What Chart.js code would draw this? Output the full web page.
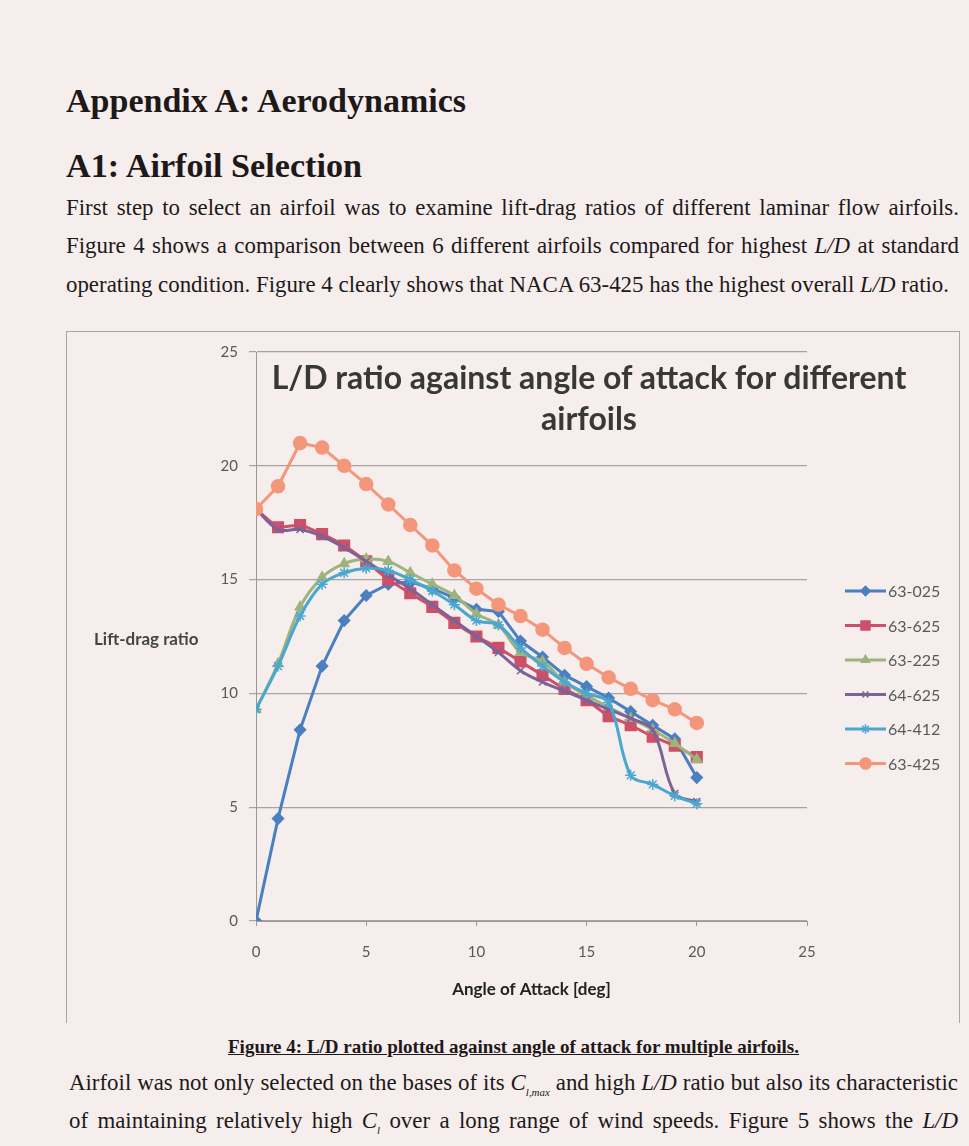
<!DOCTYPE html>
<html>
<head>
<meta charset="utf-8">
<script src="https://cdn.jsdelivr.net/npm/chart.js@4.4.0/dist/chart.umd.min.js"></script>
<style>
  html, body { margin: 0; padding: 0; }
  body {
    width: 969px; height: 1146px; position: relative; overflow: hidden;
    background: #f6eded; color: #1d1919;
    font-family: "Liberation Serif", "Times New Roman", serif;
  }
  .t { position: absolute; left: 66px; white-space: nowrap; transform-origin: 0 0; }
  .h { font-weight: bold; font-size: 33px; line-height: 33px; }
  .p { font-size: 23px; line-height: 23px; }
  .cap { font-weight: bold; font-size: 19px; line-height: 19px; text-decoration: underline; left: 228px; }
  .frame { position: absolute; left: 66px; top: 331px; width: 894px; height: 692px;
           border: 1.5px solid #aaa4a4; border-bottom: none; box-sizing: border-box; }
  #chart { position: absolute; left: 67px; top: 332px; }
  .ctitle { position: absolute; left: 239px; width: 700px; text-align: center;
            font-family: Lato, sans-serif; font-weight: bold; font-size: 32px; line-height: 41px; color: #383838; }
  .ylab { position: absolute; left: 94px; top: 630px; font-family: Lato, sans-serif; font-weight: bold;
          font-size: 17px; line-height: 17px; color: #454545; }
  i sub { font-size: 11px; }
</style>
</head>
<body>
<div class="t h" id="h1" style="top:85px">Appendix A: Aerodynamics</div>
<div class="t h" id="h2" style="top:150px">A1: Airfoil Selection</div>
<div class="t p" id="p1" style="top:196px">First step to select an airfoil was to examine lift-drag ratios of different laminar flow airfoils.</div>
<div class="t p" id="p2" style="top:234px">Figure 4 shows a comparison between 6 different airfoils compared for highest <i>L/D</i> at standard</div>
<div class="t p" id="p3" style="top:273px">operating condition. Figure 4 clearly shows that NACA 63-425 has the highest overall <i>L/D</i> ratio.</div>

<div class="frame"></div>
<canvas id="chart" width="894" height="690"></canvas>
<div class="ctitle" style="top:356px">L/D ratio against angle of attack for different<br>airfoils</div>
<div class="ylab">Lift-drag ratio</div>

<div class="t cap" id="cap" style="top:1037px">Figure 4: L/D ratio plotted against angle of attack for multiple airfoils.</div>
<div class="t p" id="p4" style="top:1071px;left:69px">Airfoil was not only selected on the bases of its <i>C<sub>l,max</sub></i> and high <i>L/D</i> ratio but also its characteristic</div>
<div class="t p" id="p5" style="top:1109px;left:69px">of maintaining relatively high <i>C<sub>l</sub></i> over a long range of wind speeds. Figure 5 shows the <i>L/D</i></div>

<script>
const angles = [0, 1, 2, 3, 4, 5, 6, 7, 8, 9, 10, 11, 12, 13, 14, 15, 16, 17, 18, 19, 20];
const airfoils = ['63-025', '63-625', '63-225', '64-625', '64-412', '63-425'];

const ld63025 = [0, 4.5, 8.4, 11.2, 13.2, 14.3, 14.8, 14.9, 14.6, 14.2, 13.7, 13.6, 12.3, 11.6, 10.8, 10.3, 9.8, 9.2, 8.6, 8.0, 6.3];
const ld63625 = [18.1, 17.3, 17.4, 17.0, 16.5, 15.8, 15.0, 14.4, 13.8, 13.1, 12.5, 12.0, 11.4, 10.8, 10.2, 9.7, 9.0, 8.6, 8.1, 7.7, 7.2];
const ld63225 = [9.3, 11.3, 13.8, 15.1, 15.7, 15.9, 15.8, 15.3, 14.8, 14.3, 13.5, 13.0, 11.8, 11.4, 10.5, 9.9, 9.4, 8.9, 8.4, 7.8, 7.1];
const ld64625 = [18.1, 17.2, 17.2, 16.9, 16.4, 15.8, 15.2, 14.6, 13.9, 13.2, 12.5, 11.8, 11.0, 10.5, 10.1, 9.7, 9.3, 8.9, 8.4, 5.6, 5.25];
const ld64412 = [9.3, 11.2, 13.4, 14.8, 15.3, 15.5, 15.4, 15.0, 14.5, 13.9, 13.2, 13.0, 12.0, 11.2, 10.5, 10.0, 9.6, 6.4, 6.0, 5.5, 5.15];
const ld63425 = [18.1, 19.1, 21.0, 20.8, 20.0, 19.2, 18.3, 17.4, 16.5, 15.4, 14.6, 13.9, 13.4, 12.8, 12.0, 11.3, 10.7, 10.2, 9.7, 9.3, 8.7];

const xTicks = [0, 5, 10, 15, 20, 25];
const yTicks = [0, 5, 10, 15, 20, 25];

const seriesValues = [ld63025, ld63625, ld63225, ld64625, ld64412, ld63425];
const colors = ['#4a7fc0', '#cd5068', '#9db47c', '#7d6298', '#4aa7cf', '#f4967a'];
const markers = ['rectRot', 'rect', 'triangle', 'crossRot', 'star', 'circle'];
const markerSize = [5.5, 7.5, 5.5, 5, 5.5, 6.5];
const smooth = [0, 0.15, 0.35, 0.35, 0.35, 0];

// squeeze / stretch the page text so each line spans what it spans in the scan
function natWidth(el) {
    el.style.transform = 'none';
    return el.getBoundingClientRect().width;
}
function fitLine(id, target) {
    const el = document.getElementById(id);
    el.style.transform = 'scaleX(' + (target / natWidth(el)) + ')';
}
function justifyLine(id, target, s) {
    const el = document.getElementById(id);
    const w = natWidth(el);
    if (w * s > target) { el.style.transform = 'scaleX(' + (target / w) + ')'; return; }
    el.style.whiteSpace = 'normal';
    el.style.width = (target / s) + 'px';
    el.style.textAlign = 'justify';
    el.style.textAlignLast = 'justify';
    el.style.transform = 'scaleX(' + s + ')';
}
fitLine('h1', 400);
fitLine('h2', 296);
fitLine('cap', 571);
const paraScale = 883 / natWidth(document.getElementById('p3'));
document.getElementById('p3').style.transform = 'scaleX(' + paraScale + ')';
justifyLine('p1', 893, paraScale);
justifyLine('p2', 893, paraScale);
justifyLine('p4', 889, paraScale);
justifyLine('p5', 889, paraScale);

const datasets = airfoils.map((name, i) => ({
    label: name,
    data: angles.map((a, j) => ({ x: a, y: seriesValues[i][j] })),
    borderColor: colors[i],
    backgroundColor: colors[i],
    pointBackgroundColor: colors[i],
    pointBorderColor: colors[i],
    pointBorderWidth: 1.5,
    borderWidth: 3,
    pointStyle: markers[i],
    pointRadius: markerSize[i],
    tension: smooth[i],
    order: airfoils.length - i
}));

// Excel style legend: short line with the marker in the middle, then the name
const excelLegend = {
    id: 'excelLegend',
    afterDraw(chart, args, opts) {
        const ctx = chart.ctx;
        chart.data.datasets.forEach((ds, i) => {
            const y = opts.top + i * opts.step;
            ctx.save();
            ctx.strokeStyle = ds.borderColor;
            ctx.lineWidth = ds.borderWidth;
            ctx.beginPath();
            ctx.moveTo(opts.left, y);
            ctx.lineTo(opts.left + opts.lineLen, y);
            ctx.stroke();
            ctx.fillStyle = ds.pointBackgroundColor;
            ctx.lineWidth = 1.5;
            Chart.helpers.drawPoint(ctx, { pointStyle: ds.pointStyle, radius: ds.pointRadius * 0.85, borderWidth: 1.5, rotation: 0 },
                opts.left + opts.lineLen / 2, y);
            ctx.fillStyle = '#595959';
            ctx.font = '16px Lato';
            ctx.textBaseline = 'middle';
            ctx.fillText(ds.label, opts.left + opts.lineLen + 2, y + 1);
            ctx.restore();
        });
    }
};

new Chart(document.getElementById('chart'), {
    type: 'line',
    data: { datasets: datasets },
    plugins: [excelLegend],
    options: {
        responsive: false,
        animation: false,
        devicePixelRatio: 1,
        layout: { padding: { left: 0, top: 20, right: 154, bottom: 0 } },
        plugins: {
            legend: { display: false },
            tooltip: { enabled: false },
            excelLegend: { left: 778, top: 259, step: 34.5, lineLen: 41 }
        },
        scales: {
            x: {
                type: 'linear', min: 0, max: 25,
                afterFit: s => { s.height = 101; },
                afterBuildTicks: s => { s.ticks = xTicks.map(v => ({ value: v })); },
                grid: { drawOnChartArea: false, drawTicks: true, tickLength: 5, color: '#9c9898' },
                border: { color: '#9c9898', width: 1 },
                ticks: { color: '#595959', font: { family: 'Lato', size: 15 }, padding: 17 },
                title: { display: true, text: 'Angle of Attack [deg]', color: '#222',
                         font: { family: 'Lato', size: 17, weight: 'bold' }, padding: { top: 0, bottom: 22 } }
            },
            y: {
                min: 0, max: 25,
                afterFit: s => { s.width = 189; },
                afterBuildTicks: s => { s.ticks = yTicks.map(v => ({ value: v })); },
                grid: { color: '#a8a4a4', lineWidth: 1.2, tickLength: 7 },
                border: { color: '#9c9898', width: 1 },
                ticks: { color: '#595959', font: { family: 'Lato', size: 15 }, padding: 11 }
            }
        }
    }
});
</script>
</body>
</html>
